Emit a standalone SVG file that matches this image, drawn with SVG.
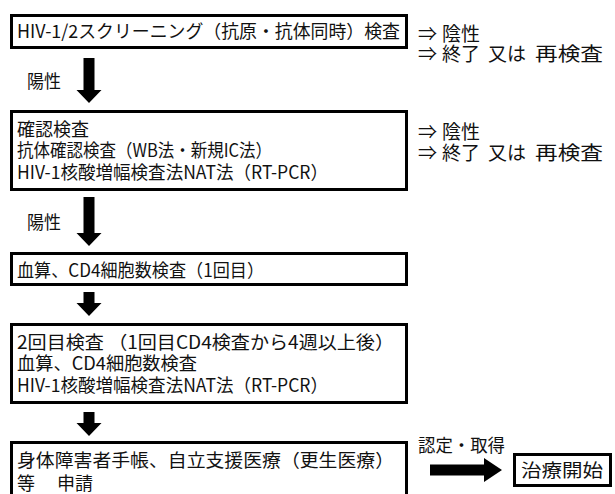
<svg xmlns="http://www.w3.org/2000/svg" width="615" height="494" viewBox="0 0 615 494">
<style>
.box{fill:#fff;stroke:#000;stroke-width:3}
.t{font-family:"Noto Sans CJK JP","Noto Sans",sans-serif;font-size:18px;fill:#111}
.r{font-family:"Noto Sans CJK JP","Noto Sans",sans-serif;font-size:19px;fill:#111}
.arr{fill:#000}
</style>
<rect x="0" y="0" width="615" height="494" fill="#fff"/>
<g id="connectors">
<path class="arr" d="M83.5 58 H94.5 V90 H101.5 L89 103 L76.5 90 H83.5 Z"/>
<path class="arr" d="M83.5 197 H94.5 V233 H101.5 L89 246 L76.5 233 H83.5 Z"/>
<path class="arr" d="M83.5 292 H94.5 V303 H101.5 L89 316 L76.5 303 H83.5 Z"/>
<path class="arr" d="M83.5 412 H94.5 V423 H101.5 L89 436 L76.5 423 H83.5 Z"/>
<path class="arr" d="M430 464.5 H484 V458 L502 470 L484 482 V475.5 H430 Z"/>
<text class="t" x="27" y="88" textLength="34" lengthAdjust="spacingAndGlyphs">陽性</text>
<text class="t" x="27" y="229" textLength="34" lengthAdjust="spacingAndGlyphs">陽性</text>
<text class="t" x="418" y="452" textLength="87" lengthAdjust="spacingAndGlyphs">認定・取得</text>
</g>
<g id="screening">
<rect class="box" x="11.5" y="15.5" width="395" height="32"/>
<text class="t" x="17" y="38" textLength="383" lengthAdjust="spacingAndGlyphs">HIV-1/2スクリーニング（抗原・抗体同時）検査</text>
</g>
<g id="negative1">
<text class="r" y="41"><tspan x="418">⇒</tspan><tspan x="442">陰性</tspan></text>
<text class="r" y="61"><tspan x="418">⇒</tspan><tspan x="442">終了</tspan><tspan x="488">又は</tspan><tspan x="535" textLength="68" lengthAdjust="spacingAndGlyphs">再検査</tspan></text>
</g>
<g id="confirm">
<rect class="box" x="11.5" y="111.5" width="395" height="78"/>
<text class="t" x="17" y="136">確認検査</text>
<text class="t" x="17" y="157" textLength="255" lengthAdjust="spacingAndGlyphs">抗体確認検査（WB法・新規IC法）</text>
<text class="t" x="17" y="179" textLength="311" lengthAdjust="spacingAndGlyphs">HIV-1核酸増幅検査法NAT法（RT-PCR）</text>
</g>
<g id="negative2">
<text class="r" y="139"><tspan x="418">⇒</tspan><tspan x="442">陰性</tspan></text>
<text class="r" y="160"><tspan x="418">⇒</tspan><tspan x="442">終了</tspan><tspan x="488">又は</tspan><tspan x="535" textLength="68" lengthAdjust="spacingAndGlyphs">再検査</tspan></text>
</g>
<g id="cd4first">
<rect class="box" x="11.5" y="253.5" width="395" height="31"/>
<text class="t" x="17" y="277" textLength="247" lengthAdjust="spacingAndGlyphs">血算、CD4細胞数検査（1回目）</text>
</g>
<g id="second">
<rect class="box" x="11.5" y="324.5" width="395" height="78"/>
<text class="t" x="17" y="349" textLength="377" lengthAdjust="spacingAndGlyphs">2回目検査 （1回目CD4検査から4週以上後）</text>
<text class="t" x="17" y="370" textLength="180" lengthAdjust="spacingAndGlyphs">血算、CD4細胞数検査</text>
<text class="t" x="17" y="392" textLength="311" lengthAdjust="spacingAndGlyphs">HIV-1核酸増幅検査法NAT法（RT-PCR）</text>
</g>
<g id="apply">
<rect class="box" x="11.5" y="442.5" width="395" height="60"/>
<text class="t" x="17" y="467" textLength="377" lengthAdjust="spacingAndGlyphs">身体障害者手帳、自立支援医療（更生医療）</text>
<text class="t" y="490"><tspan x="17">等</tspan><tspan x="57">申請</tspan></text>
</g>
<g id="treatment">
<rect class="box" x="514.5" y="454.5" width="96" height="31"/>
<text class="t" x="521" y="477" textLength="82" lengthAdjust="spacingAndGlyphs">治療開始</text>
</g>
</svg>
